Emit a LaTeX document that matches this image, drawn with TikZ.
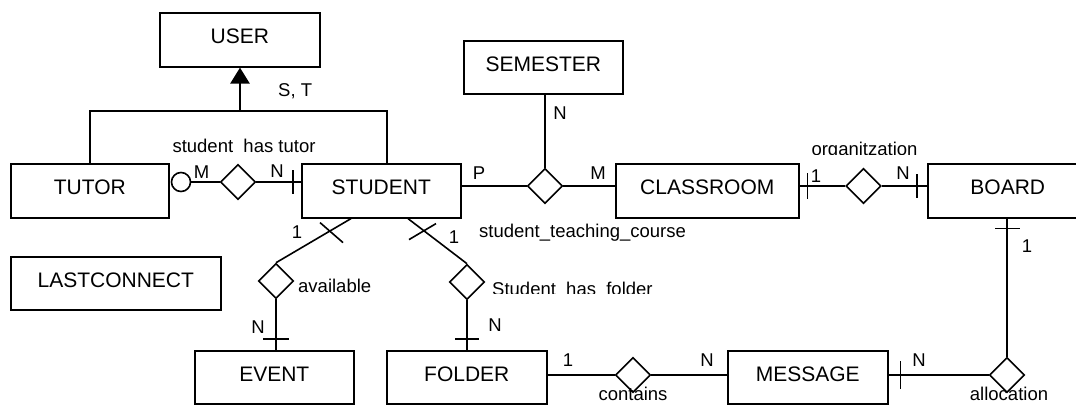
\documentclass[tikz,border=0pt]{standalone}
\usepackage{fontspec}
\setmainfont{Liberation Sans}
\usetikzlibrary{shapes.geometric,arrows.meta,calc}

\begin{document}
\begin{tikzpicture}[x=1pt,y=-1pt,
  entity/.style={draw,line width=1.6pt,inner sep=0pt,anchor=north west,text height=31pt,text depth=23pt,font=\fontsize{21}{25}\selectfont},
  entityb/.style={entity,text depth=22pt},
  rel/.style={draw,shape=diamond,line width=1.6pt,inner sep=0pt,minimum width=35pt,minimum height=35pt},
  conn/.style={line width=1.6pt},
  lbl/.style={font=\fontsize{18.5}{22}\selectfont,inner sep=0pt,anchor=base}]
\useasboundingbox (0,0) rectangle (1076,405);
\fill[white] (0,0) rectangle (1076,405);
\clip (0,0) rectangle (1076,405);

% entities
\node[entity,minimum width=160pt] (user) at (159,12) {USER};
\node[entity,minimum width=158pt] (tutor) at (10,163) {TUTOR};
\node[entity,minimum width=159pt] (student) at (301,163) {STUDENT};
\node[entityb,minimum width=159pt] (semester) at (463,40) {SEMESTER};
\node[entity,minimum width=183pt] (classroom) at (615,163) {CLASSROOM};
\node[entity,minimum width=160pt] (board) at (927,163) {BOARD};
\node[entityb,minimum width=210pt] (lastconnect) at (10,256) {LASTCONNECT};
\node[entityb,minimum width=159pt] (event) at (194,350) {EVENT};
\node[entityb,minimum width=160pt] (folder) at (386,350) {FOLDER};
\node[entityb,minimum width=160pt] (message) at (727,350) {MESSAGE};

% relationships
\node[rel] (d1) at (238,182) {};
\node[rel] (d2) at (545,186) {};
\node[rel] (d3) at (863.5,186) {};
\node[rel] (d4) at (276,281) {};
\node[rel] (d5) at (467,282) {};
\node[rel] (d6) at (633,375) {};
\node[rel] (d7) at (1007,375) {};
\node[draw,circle,line width=1.6pt,inner sep=0pt,minimum size=19pt] (c1) at (181,182) {};

% generalization
\coordinate (hub) at (240,111);
\draw[conn] (tutor.north) |- (hub) -| ($(student.north)+(5.5,0)$);
\draw[line width=2.6pt,-{Triangle[width=19pt,length=16pt]}] (hub) -- (hub |- user.south);
\node[lbl,anchor=base west] (st) at (278,96) {S, T};

% student has tutor
\draw[conn] (c1) -- (d1);
\draw[conn] (d1) -- (d1 -| student.west);
\draw[conn] ($(d1 -| student.west)+(-8,-12)$) -- ++(0,24);
\node[lbl] (lm1) at (201.5,178) {M};
\node[lbl] (ln1) at (277,177) {N};
\node[lbl] (lsht) at (244,152) {student\ \ has tutor};

% student_teaching_course
\draw[conn] (d2) -- (d2 -| student.east);
\draw[conn] (d2) -- (d2 -| classroom.west);
\draw[conn] (d2) -- (d2 |- semester.south);
\node[lbl] (lp) at (479,179) {P};
\node[lbl] (lm2) at (598,179) {M};
\node[lbl] (ln2) at (560,119) {N};
\node[lbl,anchor=base west] (lstc) at (479,237.5) {student\_teaching\_course};

% organitzation
\draw[conn] (d3) -- (d3 -| classroom.east);
\draw[conn] ($(d3 -| classroom.east)+(8,-13)$) -- ++(0,26);
\draw[conn] (d3) -- (d3 -| board.west);
\draw[conn] ($(d3 -| board.west)+(-10,-12)$) -- ++(0,24);
\node[lbl] (l1c) at (816,182) {1};
\node[lbl] (lnb) at (903,179) {N};
\begin{scope}
\clip (790,125) rectangle (940,154.5);
\node[lbl] (lorg) at (864.5,155) {organitzation};
\end{scope}

% allocation
\draw[conn] (d7) -- (d7 |- board.south);
\draw[conn] ($(d7 |- board.south)+(-12,10)$) -- ++(25,0);
\draw[conn] (d7) -- (d7 -| message.east);
\draw[conn] ($(d7 -| message.east)+(12,-14)$) -- ++(0,28);
\node[lbl] (l1b) at (1027,252) {1};
\node[lbl] (lnm2) at (919,366) {N};
\node[lbl] (lalloc) at (1009,400) {allocation};

% contains
\draw[conn] (d6) -- (d6 -| folder.east);
\draw[conn] (d6) -- (d6 -| message.west);
\node[lbl] (l1f) at (568,366) {1};
\node[lbl] (lnm) at (707,366) {N};
\node[lbl] (lcont) at (633,400) {contains};

% available
\draw[conn] (d4.north) -- ($(student.south west)+(50,0)$);
\draw[conn] ($(student.south west)+(19,4)$) -- ($(student.south west)+(42,24)$);
\draw[conn] (d4) -- (d4 |- event.north);
\draw[conn] ($(d4 |- event.north)+(-13,-11)$) -- ++(26,0);
\node[lbl] (l1a) at (297,238) {1};
\node[lbl] (lne) at (258,333) {N};
\node[lbl,anchor=base west] (lavail) at (298,292) {available};

% Student has folder
\draw[conn] (d5.north) -- ($(student.south west)+(107,0)$);
\draw[conn] ($(student.south west)+(108,21)$) -- ($(student.south west)+(135,5)$);
\draw[conn] (d5) -- (d5 |- folder.north);
\draw[conn] ($(d5 |- folder.north)+(-12,-11)$) -- ++(24,0);
\node[lbl] (l1s) at (454,243) {1};
\node[lbl] (lnf) at (495,331) {N};
\begin{scope}
\clip (480,265) rectangle (700,293.5);
\node[lbl,anchor=base west] (lshf) at (492,295.5) {Student\ \ has\ \ folder};
\end{scope}
\end{tikzpicture}
\end{document}
